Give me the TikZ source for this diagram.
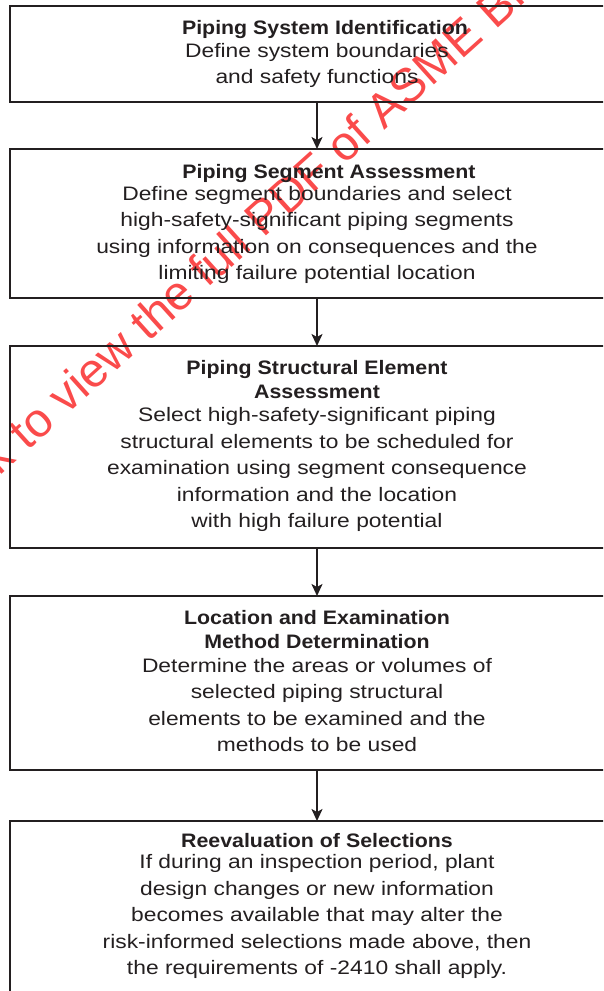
\documentclass[tikz,border=0pt]{standalone}
\usepackage{fontspec}
\setmainfont{Liberation Sans}
\newfontfamily\bodyfont{Liberation Sans}[FakeStretch=1.17]
\newfontfamily\headfont{Liberation Sans}[FakeStretch=1.095]
\usetikzlibrary{arrows.meta}
\definecolor{ink}{HTML}{231F20}
\definecolor{wmred}{RGB}{250,75,75}
\tikzset{
  stepbox/.style={draw=ink, line width=1.8pt, minimum width=614pt, inner sep=0pt, outer sep=0pt},
  body/.style={anchor=north, align=center, inner sep=0pt, outer sep=0pt, text=ink,
    font=\bodyfont\fontsize{19.5}{26.5}\selectfont},
  flow/.style={draw=ink, line width=1.8pt, -{Stealth[length=12pt,width=11pt,inset=3pt]}},
  wm/.style={text=wmred, font=\fontsize{48}{48}\selectfont, inner sep=0pt, anchor=base west, rotate=42}
}
\newcommand{\hd}[1]{{\headfont\bfseries #1}}
\begin{document}
\begin{tikzpicture}[x=1pt,y=-1pt]
\useasboundingbox (0,0) rectangle (603,991);
\clip (0,0) rectangle (603,991);
% watermark
\node[wm] (wmk) at (-60,530) {Click to view the full PDF of ASME BPVC};
% boxes
\node[stepbox, minimum height=96pt]  (b1) at (317,54) {};
\node[stepbox, minimum height=149pt] (b2) at (317,223.5) {};
\node[stepbox, minimum height=202pt] (b3) at (317,447) {};
\node[stepbox, minimum height=174pt] (b4) at (317,683) {};
\node[stepbox, minimum height=190pt] (b5) at (317,916) {};
% texts
\node[body] (t1) at ([yshift=-13pt]b1.north) {\rule{0pt}{15pt}\hspace*{16pt}\hd{Piping System Identification}\\[-3.5pt]
Define system boundaries\\
and safety functions};
\node[body] (t2) at ([yshift=-14pt]b2.north) {\rule{0pt}{15pt}\hspace*{24pt}\hd{Piping Segment Assessment}\\[-4.5pt]
Define segment boundaries and select\\
high-safety-significant piping segments\\
using information on consequences and the\\
limiting failure potential location};
\node[body] (t3) at ([yshift=-13pt]b3.north) {\rule{0pt}{15pt}\hd{Piping Structural Element}\\[-2pt]
\hd{Assessment}\\[-3.5pt]
Select high-safety-significant piping\\
structural elements to be scheduled for\\
examination using segment consequence\\
information and the location\\
with high failure potential};
\node[body] (t4) at ([yshift=-13pt]b4.north) {\rule{0pt}{15pt}\hd{Location and Examination}\\[-2.5pt]
\hd{Method Determination}\\[-2.5pt]
Determine the areas or volumes of\\
selected piping structural\\
elements to be examined and the\\
methods to be used};
\node[body] (t5) at ([yshift=-11pt]b5.north) {\rule{0pt}{15pt}\hd{Reevaluation of Selections}\\[-5pt]
If during an inspection period, plant\\
design changes or new information\\
becomes available that may alter the\\
risk-informed selections made above, then\\
the requirements of -2410 shall apply.};
% connectors
\draw[flow] (b1.south) -- (b2.north);
\draw[flow] (b2.south) -- (b3.north);
\draw[flow] (b3.south) -- (b4.north);
\draw[flow] (b4.south) -- (b5.north);
\end{tikzpicture}
\end{document}
